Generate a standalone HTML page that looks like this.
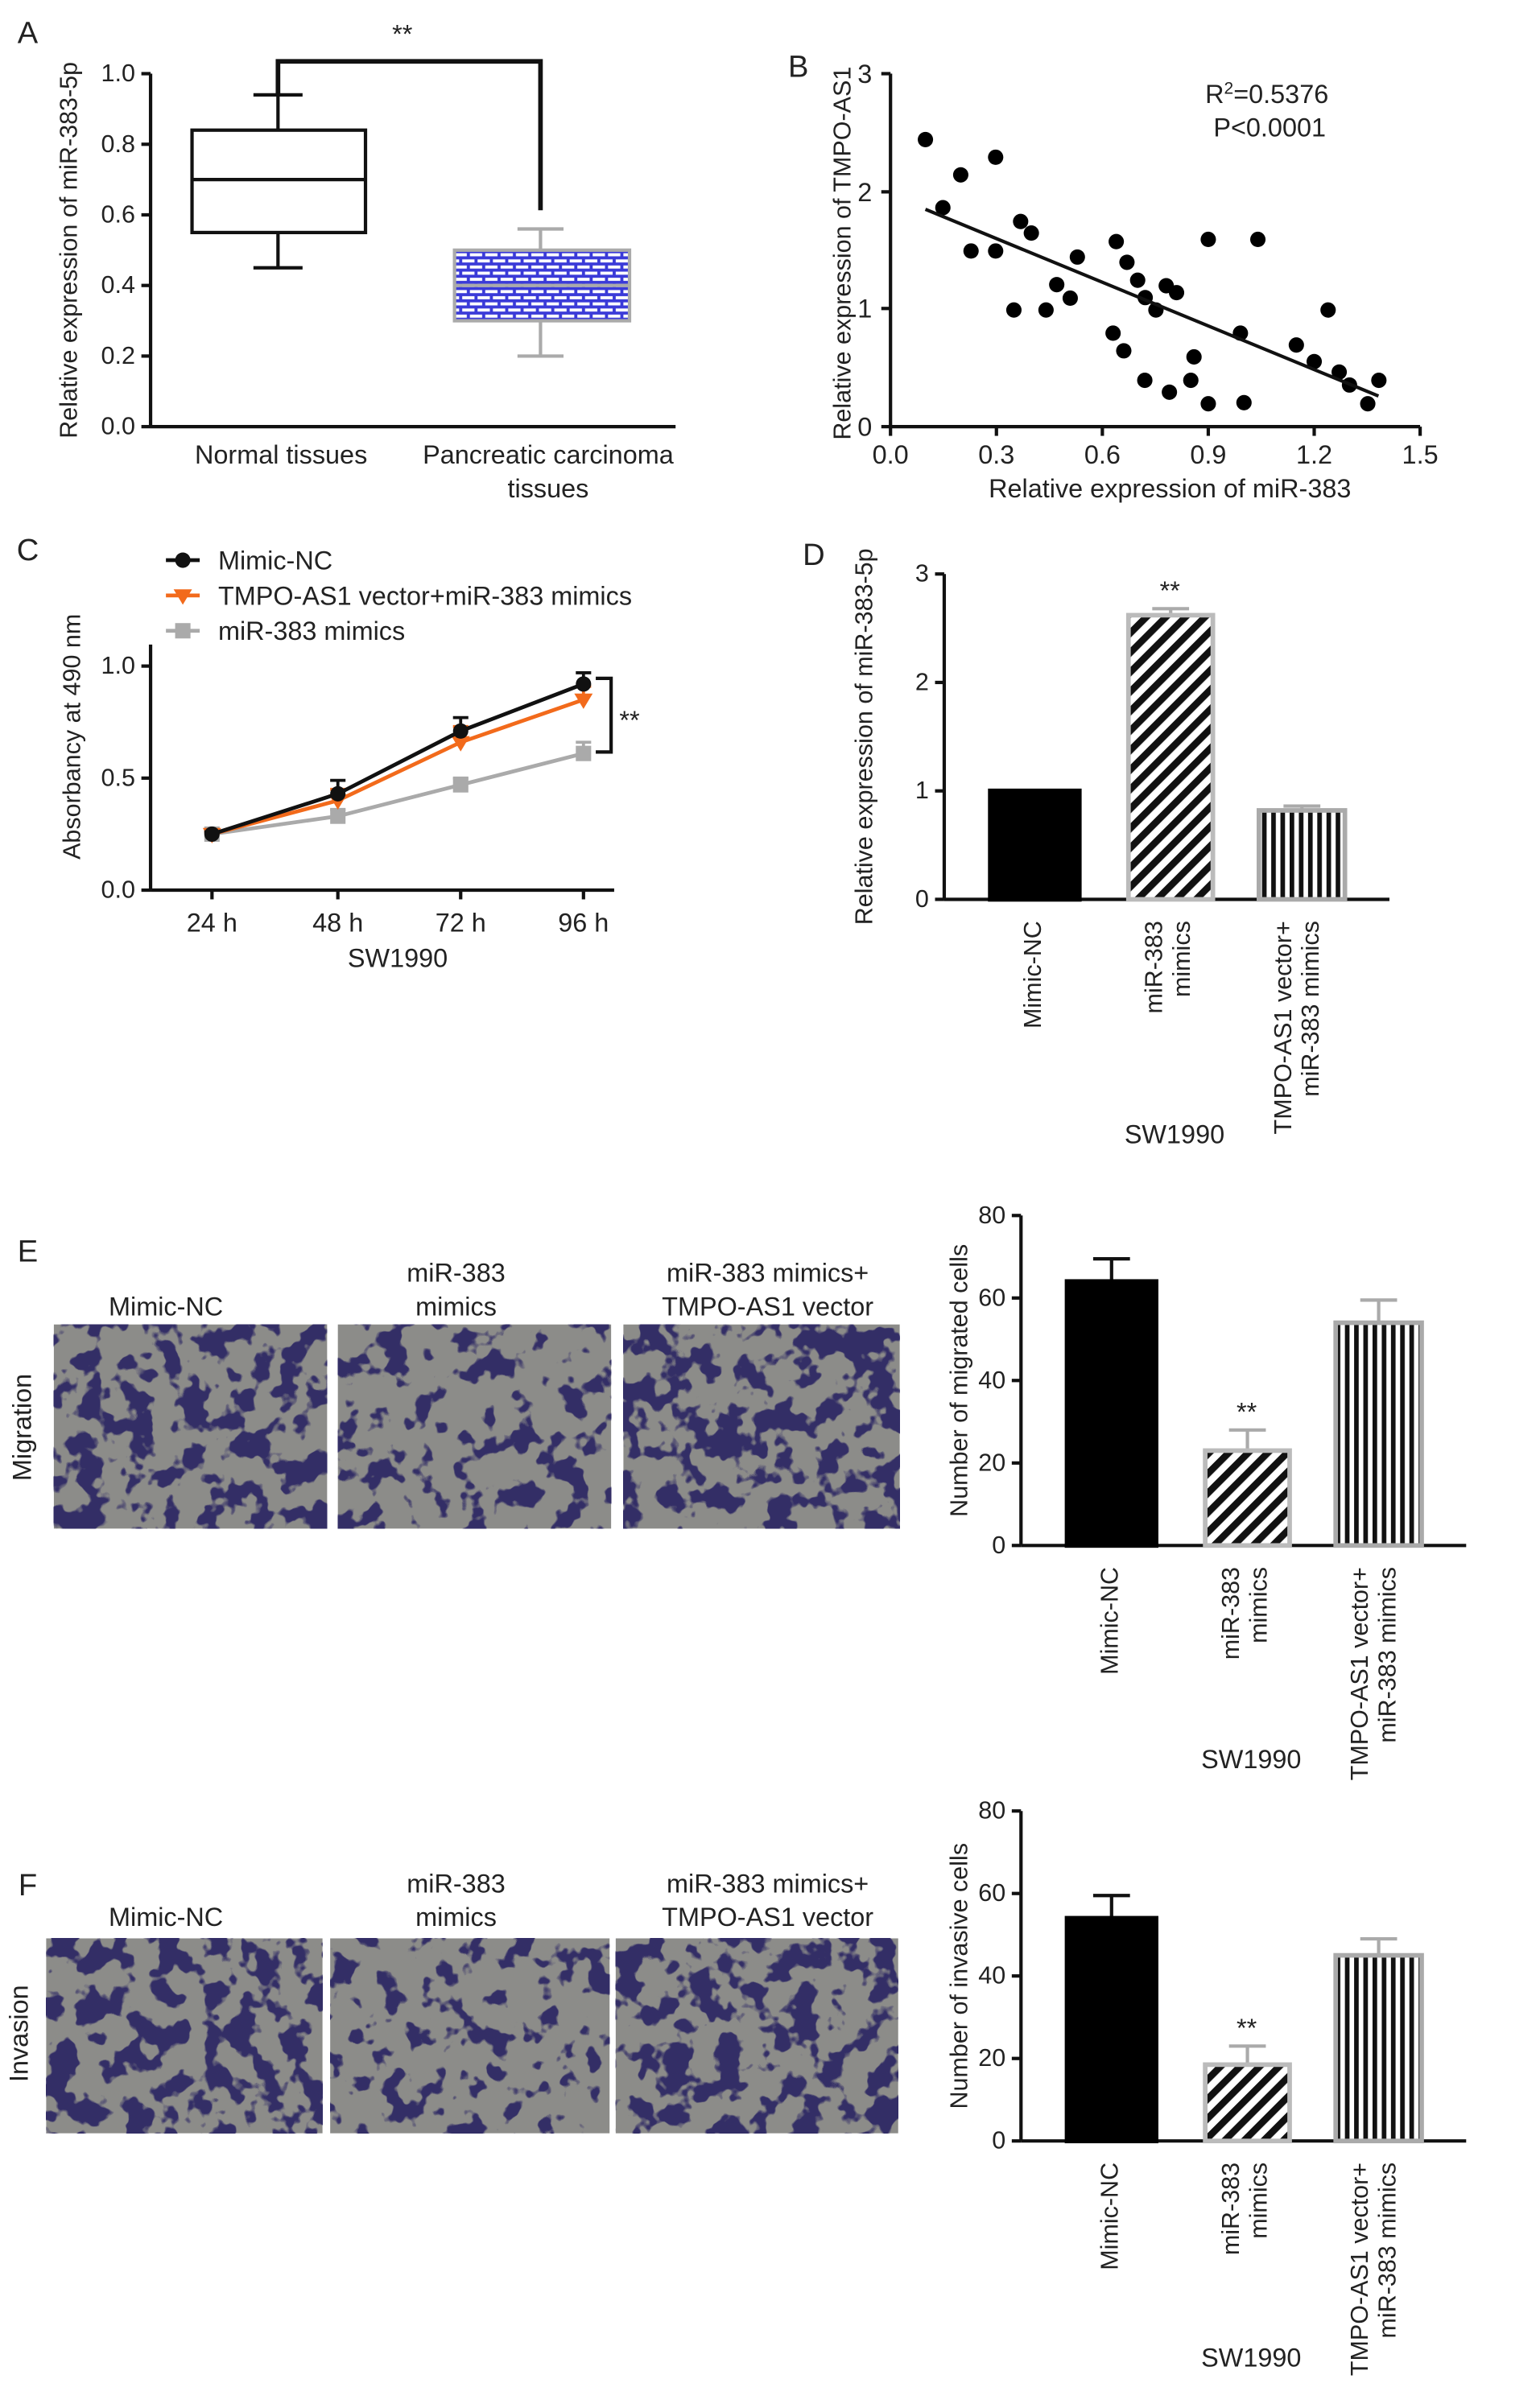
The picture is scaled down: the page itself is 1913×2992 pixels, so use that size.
<!DOCTYPE html>
<html><head><meta charset="utf-8"><style>
html,body{margin:0;padding:0;background:#fff;}
svg{display:block;}
text{font-family:"Liberation Sans",Arial,sans-serif;fill:#222;}
</style></head><body>
<svg id="s" width="1913" height="2992" viewBox="0 0 1003 1569" xmlns="http://www.w3.org/2000/svg">
<defs>
<pattern id="brick" width="10" height="8" patternUnits="userSpaceOnUse">
<rect width="10" height="8" fill="#3a3ad8"/>
<rect x="1" y="1" width="8" height="2" fill="#fff"/>
<rect x="-4" y="5" width="8" height="2" fill="#fff"/><rect x="6" y="5" width="8" height="2" fill="#fff"/>
</pattern>
<pattern id="diag" width="9" height="9" patternUnits="userSpaceOnUse" patternTransform="rotate(45)">
<rect width="9" height="9" fill="#fff"/><rect width="4.5" height="9" fill="#111"/>
</pattern>
<pattern id="vert" width="6" height="6" patternUnits="userSpaceOnUse">
<rect width="6" height="6" fill="#fff"/><rect width="3" height="6" fill="#111"/>
</pattern>
<filter id="cells" x="0" y="0" width="100%" height="100%" color-interpolation-filters="sRGB">
<feTurbulence type="fractalNoise" baseFrequency="0.06" numOctaves="3" seed="4"/>
<feColorMatrix type="matrix" values="0 0 0 0 0.2  0 0 0 0 0.18  0 0 0 0 0.4  16 0 0 0 -8.0"/>
</filter>
<filter id="cells2" x="0" y="0" width="100%" height="100%" color-interpolation-filters="sRGB">
<feTurbulence type="fractalNoise" baseFrequency="0.06" numOctaves="3" seed="9"/>
<feColorMatrix type="matrix" values="0 0 0 0 0.2  0 0 0 0 0.18  0 0 0 0 0.4  16 0 0 0 -8.9"/>
</filter>
</defs>
</svg>
<script>
const s=document.getElementById('s');const NS='http://www.w3.org/2000/svg';
function el(t,a,txt){const e=document.createElementNS(NS,t);for(const k in a)e.setAttribute(k,a[k]);if(txt!==undefined)e.textContent=txt;s.appendChild(e);return e;}
function L(x1,y1,x2,y2,c,w){el('line',{x1,y1,x2,y2,stroke:c||'#111','stroke-width':w||2.2});}
function T(x,y,t,sz,anc,rot){const a={x,y,'font-size':sz||17,'text-anchor':anc||'middle'};if(rot)a.transform=`rotate(-90 ${x} ${y})`;el('text',a,t);}
function R(x,y,w,h,f,st){el('rect',{x,y,width:w,height:h,fill:f||'none',stroke:st||'#111','stroke-width':2.2});}
// Panel A
T(18,28,'A',20,'middle');
L(98,48,98,278);L(98,278,440,278);
[[1.0,48],[0.8,94],[0.6,140],[0.4,186],[0.2,232],[0.0,278]].forEach(([v,y])=>{L(92,y,98,y);T(88,y+5,v.toFixed(1),16,'end');});
const ya=v=>278-v*230;
L(181,ya(0.45),181,ya(0.94));L(165,ya(0.94),197,ya(0.94));L(165,ya(0.45),197,ya(0.45));
R(125,ya(0.84),113,ya(0.55)-ya(0.84),'#fff');L(125,ya(0.70),238,ya(0.70));
L(352,ya(0.2),352,ya(0.56),'#aaa');L(337,ya(0.56),367,ya(0.56),'#aaa');L(337,ya(0.2),367,ya(0.2),'#aaa');
el('rect',{x:296,y:ya(0.5),width:114,height:ya(0.3)-ya(0.5),fill:'url(#brick)',stroke:'#aaa','stroke-width':2.2});
L(296,ya(0.4),410,ya(0.4),'#aaa');
el('polyline',{points:'181,62 181,40 352,40 352,137',fill:'none',stroke:'#111','stroke-width':3});
T(262,28,'**',17);
T(183,302,'Normal tissues');T(357,302,'Pancreatic carcinoma');T(357,324,'tissues');
T(50,163,'Relative expression of miR-383-5p',16,'middle',1);
// Panel B
T(520,50,'B',20);
L(580,48,580,278);L(580,278,925,278);
[[0,278],[1,201],[2,125],[3,48]].forEach(([v,y])=>{L(574,y,580,y);T(568,y+6,v,17,'end');});
['0.0','0.3','0.6','0.9','1.2','1.5'].forEach((t,i)=>{const x=580+i*69;L(x,278,x,284);T(x,302,t,17);});
const bx=z=>580+(z-145)/1335*345, by=z=>278-(1408-z)/1280*230;
[[233,367],[277,614],[322,495],[348,771],[410,431],[410,771],[456,985],[473,664],[500,706],[537,985],[564,893],[598,942],[616,793],[706,1069],[714,737],[733,1133],[741,812],[768,877],[786,1240],[787,940],[814,985],[840,897],[848,1283],[866,922],[902,1240],[910,1155],[946,729],[946,1325],[1027,1069],[1036,1321],[1071,729],[1168,1112],[1213,1172],[1248,985],[1276,1210],[1302,1257],[1348,1325],[1376,1240]].forEach(([x,y])=>el('circle',{cx:bx(x),cy:by(y),r:5,fill:'#000'}));
L(bx(233),by(620),bx(1375),by(1297),'#111',2.2);
{const t=el('text',{x:785,y:67,'font-size':17,'text-anchor':'start'},'R');const ts=document.createElementNS(NS,'tspan');ts.setAttribute('dy','-6');ts.setAttribute('font-size','11');ts.textContent='2';t.appendChild(ts);const t2=document.createElementNS(NS,'tspan');t2.setAttribute('dy','6');t2.textContent='=0.5376';t.appendChild(t2);}
T(827,89,'P<0.0001');
T(554,165,'Relative expression of TMPO-AS1',16,'middle',1);
T(762,324,'Relative expression of miR-383');
// Panel C
T(18,365,'C',20);
L(98,420,98,580);L(98,580,400,580);
[[0,580],[0.5,507],[1.0,434]].forEach(([v,y])=>{L(92,y,98,y);T(88,y+5,v.toFixed(1),16,'end');});
const xs=[138,220,300,380];['24 h','48 h','72 h','96 h'].forEach((t,i)=>{L(xs[i],580,xs[i],586);T(xs[i],607,t);});
T(259,630,'SW1990');
const yc=v=>580-v*146;
function mk(x,y,c,m){if(m=='c')el('circle',{cx:x,cy:y,r:5,fill:c});else if(m=='sq')el('rect',{x:x-5,y:y-5,width:10,height:10,fill:c});else el('polygon',{points:`${x-6},${y-4} ${x+6},${y-4} ${x},${y+6}`,fill:c});}
const ser=[['#aaa',[0.25,0.33,0.47,0.61],[0.01,0.03,0.03,0.05],'sq'],['#f26a1b',[0.25,0.40,0.66,0.85],[0.01,0.05,0.07,0.06],'tri'],['#111',[0.25,0.43,0.71,0.92],[0.01,0.06,0.06,0.05],'c']];
ser.forEach(([c,v,e,m])=>{el('polyline',{points:v.map((q,i)=>xs[i]+','+yc(q)).join(' '),fill:'none',stroke:c,'stroke-width':2.5});
v.forEach((q,i)=>{L(xs[i],yc(q+e[i]),xs[i],yc(q),c,2);L(xs[i]-5,yc(q+e[i]),xs[i]+5,yc(q+e[i]),c,2);mk(xs[i],yc(q),c,m);});});
[['#111','c','Mimic-NC',365],['#f26a1b','tri','TMPO-AS1 vector+miR-383 mimics',388],['#aaa','sq','miR-383 mimics',411]].forEach(([c,m,t,y])=>{L(108,y,130,y,c,2.5);mk(119,y,c,m);T(142,y+6,t,17,'start');});
el('polyline',{points:'388,442 398,442 398,490 388,490',fill:'none',stroke:'#111','stroke-width':2.2});
T(410,475,'**');
T(52,480,'Absorbancy at 490 nm',16,'middle',1);
function bars(ax,y0,yTop,max,step,vals,errs,ylab,lbx,sw){
 const py=(y0-yTop)/max;const Y=v=>y0-v*py;
 L(ax,yTop,ax,y0);L(ax,y0,ax+290,y0);
 for(let v=0;v<=max;v+=step){L(ax-6,Y(v),ax,Y(v));T(ax-10,Y(v)+5,String(v),16,'end');}
 const bxs=[[30,88],[120,175],[205,261]];const fills=['#000','url(#diag)','url(#vert)'];const strokes=['#000','#bbb','#aaa'];
 vals.forEach((v,i)=>{const x1=ax+bxs[i][0],w=bxs[i][1]-bxs[i][0],cx=x1+w/2;
  L(cx,Y(v+errs[i]),cx,Y(v),i?'#aaa':'#111');L(cx-12,Y(v+errs[i]),cx+12,Y(v+errs[i]),i?'#aaa':'#111');
  el('rect',{x:x1,y:Y(v),width:w,height:Y(0)-Y(v),fill:fills[i],stroke:strokes[i],'stroke-width':3});});
 T(ax+147,Y(vals[1]+errs[1])-6,'**');
 T(lbx,(yTop+y0)/2,ylab,16,'middle',1);
 const ly=y0+14;
 T(ax+63,ly,'Mimic-NC',16,'end',1);
 T(ax+142,ly,'miR-383',16,'end',1);T(ax+160,ly,'mimics',16,'end',1);
 T(ax+226,ly,'TMPO-AS1 vector+',16,'end',1);T(ax+244,ly,'miR-383 mimics',16,'end',1);
 T(ax+150,sw,'SW1990');
}
T(530,368,'D',20);
bars(615,586,374,3,1,[1,2.62,0.82],[0,0.06,0.04],'Relative expression of miR-383-5p',568,745);
T(18,822,'E',20);
T(108,857,'Mimic-NC');T(297,835,'miR-383');T(297,857,'mimics');T(500,835,'miR-383 mimics+');T(500,857,'TMPO-AS1 vector');
[[35,178],[220,178],[406,180]].forEach(([x,w],i)=>{el('rect',{x,y:863,width:w,height:133,fill:'#8c8c89'});el('rect',{x,y:863,width:w,height:133,filter:i==1?'url(#cells2)':'url(#cells)'});});
T(20,930,'Migration',17,'middle',1);
bars(665,1007,792,80,20,[64,23,54],[5.5,5,5.5],'Number of migrated cells',630,1152);
T(18,1235,'F',20);
T(108,1255,'Mimic-NC');T(297,1233,'miR-383');T(297,1255,'mimics');T(500,1233,'miR-383 mimics+');T(500,1255,'TMPO-AS1 vector');
[[30,180],[215,182],[401,184]].forEach(([x,w],i)=>{el('rect',{x,y:1263,width:w,height:127,fill:'#8c8c89'});el('rect',{x,y:1263,width:w,height:127,filter:i==1?'url(#cells2)':'url(#cells)'});});
T(18,1325,'Invasion',17,'middle',1);
bars(665,1395,1180,80,20,[54,18.5,45],[5.5,4.5,4],'Number of invasive cells',630,1542);
</script>
</body></html>
